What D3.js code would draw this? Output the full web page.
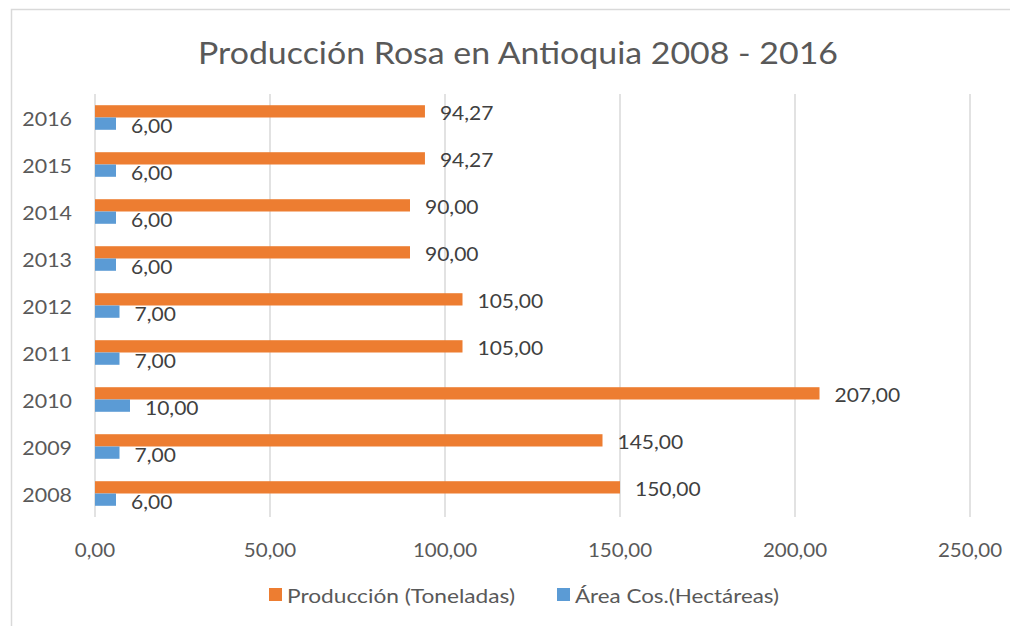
<!DOCTYPE html>
<html><head><meta charset="utf-8">
<script src="https://cdn.jsdelivr.net/npm/d3@7"></script>
<style>body{margin:0;background:#fff}svg{display:block}text{font-family:Lato,"Open Sans",sans-serif}</style>
</head><body><svg id="c" width="1010" height="626"></svg>
<script>
const years = ["2008","2009","2010","2011","2012","2013","2014","2015","2016"];
const produccion = [150, 145, 207, 105, 105, 90, 90, 94.27, 94.27];
const area = [6, 7, 10, 7, 7, 6, 6, 6, 6];
const xTicks = [0, 50, 100, 150, 200, 250];
const seriesNames = ["Producción (Toneladas)", "Área Cos.(Hectáreas)"];
const seriesColors = ["#ED7D31", "#5B9BD5"];
const title = "Producción Rosa en Antioquia 2008 - 2016";

const svg = d3.select("#c");
const fmt = v => v.toFixed(2).replace(".", ",");
function stretch(sel, f) {
  sel.each(function(){ const w = this.getComputedTextLength(); d3.select(this).attr("textLength", w*f).attr("lengthAdjust","spacingAndGlyphs"); });
}

svg.append("rect").attr("x",11.5).attr("y",9.5).attr("width",1100).attr("height",700)
  .attr("fill","#fff").attr("stroke","#d9d9d9").attr("stroke-width",1.5);

const x = d3.scaleLinear().domain([0,250]).range([95,970]);
const p = 0.477;
const y = d3.scaleBand().domain(years.slice().reverse()).range([94,517]).paddingInner(p).paddingOuter(p/2);
const yi = d3.scaleBand().domain([0,1]).range([0,y.bandwidth()]);

// title
svg.append("text").attr("x",518).attr("y",52).attr("text-anchor","middle")
  .attr("dominant-baseline","central").attr("font-size",31).attr("fill","#595959")
  .attr("textLength",640).attr("lengthAdjust","spacingAndGlyphs").text(title);

// gridlines
svg.append("g").selectAll("line").data(xTicks).join("line")
  .attr("x1",d=>x(d)).attr("x2",d=>x(d)).attr("y1",94).attr("y2",517)
  .attr("stroke","#d9d9d9").attr("stroke-width",1.5);

// x tick labels
svg.append("g").selectAll("text").data(xTicks).join("text")
  .attr("x",d=>x(d)).attr("y",549).attr("text-anchor","middle").attr("dominant-baseline","central")
  .attr("font-size",19).attr("fill","#595959").text(fmt).call(stretch, 1.08);

// y labels
svg.append("g").selectAll("text").data(years).join("text")
  .attr("x",72).attr("y",d=>y(d)+y.bandwidth()/2).attr("text-anchor","end").attr("dominant-baseline","central")
  .attr("font-size",20).attr("fill","#595959").text(d=>d).call(stretch, 1.07);

const series = [produccion, area];
series.forEach((vals, si) => {
  const g = svg.append("g");
  g.selectAll("rect").data(years).join("rect")
    .attr("x", x(0)).attr("y", (d)=>y(d)+yi(si))
    .attr("width", (d,i)=>x(vals[i])-x(0)).attr("height", yi.bandwidth())
    .attr("fill", seriesColors[si]);
  g.selectAll("text").data(years).join("text")
    .attr("x", (d,i)=>x(vals[i])+15).attr("y", d=>y(d)+yi(si)+yi.bandwidth()/2+1)
    .attr("dominant-baseline","central").attr("font-size",20).attr("fill","#404040")
    .text((d,i)=>fmt(vals[i])).call(stretch, 1.05);
});

// legend
const legX = [269, 557];
const legW = [228, 204];
seriesNames.forEach((n,i)=>{
  svg.append("rect").attr("x",legX[i]).attr("y",588).attr("width",13).attr("height",13).attr("fill",seriesColors[i]);
  svg.append("text").attr("x",legX[i]+18).attr("y",595).attr("dominant-baseline","central")
    .attr("font-size",19).attr("fill","#595959")
    .attr("textLength",legW[i]).attr("lengthAdjust","spacingAndGlyphs").text(n);
});
</script>
</body></html>
